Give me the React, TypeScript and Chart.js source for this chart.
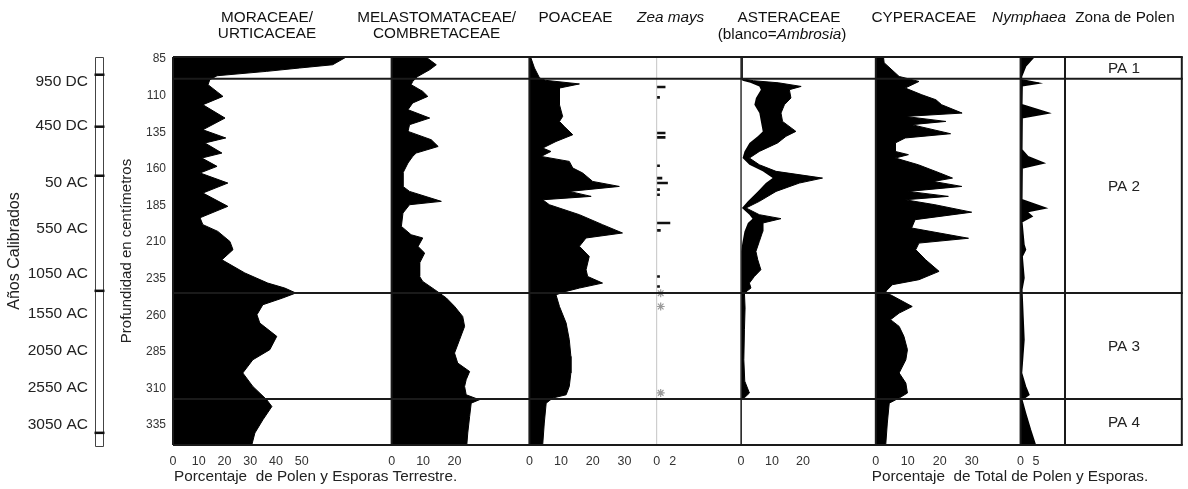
import React, { useEffect, useRef } from "react";
import { Chart, registerables } from "chart.js";

Chart.register(...registerables);

const FONT = "'Liberation Sans', Arial, Helvetica, sans-serif";
const TXT = 15.3;

// ---------------- data ----------------
const depthTicks = [85, 110, 135, 160, 185, 210, 235, 260, 285, 310, 335];
const depthMin = 83.6;
const depthMax = 348.6;

const ageLabels = ["950 DC", "450 DC", "50 AC", "550 AC", "1050 AC", "1550 AC", "2050 AC", "2550 AC", "3050 AC"];
const ageDepths = [100.5, 130.7, 169.6, 200.8, 231.8, 259.1, 284.3, 309.4, 334.8];
const dateMarkDepths = [95.7, 131.2, 164.7, 243.3, 340.3];

const zoneBoundaries = [98.4, 244.8, 317.2];
const zoneLabels = ["PA 1", "PA 2", "PA 3", "PA 4"];

const moraceaeDepth = [83.6, 88.9, 91.1, 93.4, 96.4, 99.1, 102.5, 110.5, 116.2, 125.3, 133.3, 138.9, 142.3, 149.2, 152.6, 158.3, 162.8, 169.7, 176.5, 185.6, 193.4, 198.1, 202.7, 209.6, 215.2, 222.1, 231.1, 238.0, 241.4, 244.8, 248.2, 252.8, 259.6, 265.3, 274.4, 283.5, 290.4, 299.4, 308.6, 317.7, 322.3, 331.4, 340.4, 348.6];
const moraceaeValues = [67.3, 62.0, 49.2, 36.4, 17.1, 14.3, 13.6, 19.4, 11.6, 20.2, 11.6, 20.5, 12.4, 19.0, 11.2, 17.1, 10.5, 21.3, 11.6, 21.3, 10.5, 11.6, 17.4, 22.1, 23.3, 19.0, 27.9, 36.8, 43.4, 47.7, 42.6, 34.9, 32.6, 33.7, 40.3, 37.6, 31.0, 27.1, 31.0, 36.4, 38.4, 34.9, 31.8, 30.6];

const melastDepth = [83.6, 88.9, 92.3, 96.9, 100.3, 102.5, 107.1, 110.5, 115.0, 119.6, 125.3, 129.8, 134.4, 140.1, 144.7, 149.2, 151.5, 156.0, 162.8, 172.0, 175.4, 182.2, 184.5, 190.2, 199.3, 205.0, 207.2, 213.0, 217.5, 224.3, 233.5, 236.9, 242.5, 248.2, 253.9, 260.8, 267.6, 276.7, 285.8, 292.6, 298.4, 304.0, 308.6, 314.3, 317.7, 320.0, 329.1, 340.4, 348.6];
const melastValues = [10.9, 14.2, 12.1, 8.3, 6.7, 6.2, 9.9, 11.5, 6.7, 5.2, 12.1, 5.7, 5.2, 12.6, 14.8, 7.8, 6.7, 5.2, 3.6, 3.6, 5.7, 15.8, 5.7, 3.6, 3.1, 6.2, 9.9, 8.4, 10.5, 8.9, 8.9, 9.9, 13.7, 17.4, 20.0, 22.6, 23.2, 21.6, 20.0, 21.0, 24.8, 23.7, 23.2, 23.7, 27.9, 25.3, 24.8, 24.2, 23.9];

const poaceaeDepth = [84.3, 91.1, 97.9, 99.5, 102.0, 104.8, 116.2, 124.2, 127.6, 131.0, 136.7, 141.3, 145.8, 148.1, 151.5, 154.9, 159.4, 162.8, 168.6, 172.0, 175.4, 178.8, 181.1, 184.5, 191.3, 198.1, 203.8, 207.2, 212.9, 219.8, 228.9, 233.5, 238.0, 241.4, 243.7, 246.0, 254.0, 265.3, 276.7, 288.1, 299.4, 308.6, 314.3, 316.5, 320.0, 333.6, 348.6];
const poaceaeValues = [0.5, 1.6, 3.2, 5.0, 15.8, 9.5, 9.5, 10.5, 9.5, 11.0, 13.7, 8.4, 4.2, 6.8, 3.7, 12.6, 13.7, 16.8, 20.0, 28.4, 12.6, 19.5, 4.2, 6.3, 15.8, 23.1, 29.4, 17.9, 15.8, 18.9, 17.9, 18.4, 23.1, 15.8, 11.6, 8.4, 9.5, 11.6, 12.6, 13.1, 13.1, 12.6, 11.6, 7.4, 5.3, 4.7, 4.2];

const zeaDepth = [104.1, 111.2, 135.5, 138.5, 157.9, 166.3, 169.7, 174.2, 177.7, 197.0, 202.0, 233.5, 240.3];
const zeaValues = [1.1, 0.4, 1.1, 1.1, 0.4, 0.7, 1.4, 0.4, 0.4, 1.7, 0.5, 0.4, 0.4];
const zeaStarDepth = [244.9, 254.0, 313.0];
const zeaStarValues = [0.5, 0.5, 0.5];

const asterDepth = [83.6, 98.4, 99.8, 101.2, 103.7, 105.9, 111.6, 116.2, 121.9, 127.6, 134.4, 137.8, 142.3, 148.1, 152.6, 157.2, 161.7, 166.3, 169.7, 175.4, 182.2, 186.7, 191.3, 194.0, 197.0, 202.7, 209.6, 216.4, 222.1, 228.9, 233.5, 238.0, 241.4, 244.8, 255.0, 269.9, 290.4, 305.0, 313.1, 316.5, 317.7, 348.6];
const asterValues = [0.3, 0.3, 4.0, 12.0, 19.4, 15.6, 16.1, 14.0, 12.9, 13.4, 17.7, 14.5, 11.8, 5.9, 2.7, 5.9, 11.3, 26.3, 18.8, 11.3, 5.9, 1.6, 5.9, 12.9, 7.0, 7.0, 5.9, 4.8, 5.4, 6.4, 4.3, 2.7, 3.2, 1.1, 1.3, 1.1, 0.9, 1.2, 2.7, 1.0, 0, 0];
const ambrosiaValues = [0, 0, 0.5, 3.0, 5.9, 6.4, 4.8, 4.3, 5.9, 6.4, 7.0, 5.4, 2.7, 1.1, 0.5, 2.7, 7.0, 10.2, 8.0, 5.4, 2.2, 0.3, 2.7, 3.7, 2.2, 1.1, 0.5, 0, 0, 0, 0, 0, 0, 0, 0, 0, 0, 0, 0, 0, 0, 0];

const cyperDepth = [83.6, 87.5, 96.9, 100.3, 104.8, 109.4, 112.8, 116.2, 121.9, 124.2, 127.6, 129.8, 136.0, 138.9, 142.3, 148.1, 150.3, 152.6, 157.2, 162.8, 166.3, 168.6, 172.0, 175.4, 178.8, 181.1, 184.5, 189.6, 194.7, 200.4, 207.4, 210.7, 215.2, 222.1, 230.0, 235.7, 239.1, 243.7, 246.0, 254.0, 258.5, 263.0, 267.6, 274.4, 283.5, 290.4, 299.4, 306.3, 313.1, 316.5, 320.0, 333.6, 348.6];
const cyperValues = [2.4, 2.6, 7.3, 13.5, 9.2, 14.4, 18.8, 20.6, 27.0, 9.2, 21.9, 11.2, 23.4, 9.2, 6.1, 6.1, 10.2, 6.1, 13.3, 20.0, 24.0, 18.0, 26.9, 10.2, 22.7, 9.2, 18.5, 30.0, 12.3, 11.2, 29.0, 13.5, 12.5, 15.6, 19.8, 13.5, 5.2, 3.1, 4.6, 11.4, 7.3, 4.6, 7.3, 8.8, 9.9, 9.4, 7.3, 9.4, 9.9, 7.3, 4.2, 3.6, 3.1];

const nymphDepth = [83.6, 90.0, 96.9, 99.1, 101.4, 103.2, 116.2, 121.9, 125.1, 146.9, 151.7, 156.0, 159.4, 181.1, 186.7, 189.3, 192.5, 196.1, 211.8, 215.2, 219.8, 234.6, 242.5, 276.7, 299.4, 308.6, 314.3, 317.7, 326.8, 338.2, 348.6];
const nymphValues = [4.3, 1.6, 0.3, 0.3, 5.9, 0.5, 0.4, 9.1, 0.5, 0.4, 2.4, 7.5, 0.5, 0.4, 8.1, 2.0, 3.7, 0.4, 1.1, 1.6, 0.5, 1.1, 0.4, 1.1, 0.3, 1.6, 2.7, 0.4, 1.6, 3.2, 4.8];

const morTicks = [0, 10, 20, 30, 40, 50];
const melTicks = [0, 10, 20];
const poaTicks = [0, 10, 20, 30];
const zeaTicks = [0, 2];
const astTicks = [0, 10, 20];
const cypTicks = [0, 10, 20, 30];
const nymTicks = [0, 5];

const captionTerrestre = "Porcentaje  de Polen y Esporas Terrestre.";
const captionTotal = "Porcentaje  de Total de Polen y Esporas.";

// ---------------- layout config ----------------
type Panel = { id: string; max: number; weight: number; ticks: number[]; title: string[]; italic?: boolean; tx: number };
const panels: Panel[] = [
  { id: "xMor", max: 84.9, weight: 219, ticks: morTicks, title: ["MORACEAE/", "URTICACEAE"], tx: 94 },
  { id: "xMel", max: 43.8, weight: 138, ticks: melTicks, title: ["MELASTOMATACEAE/", "COMBRETACEAE"], tx: 45 },
  { id: "xPoa", max: 40.2, weight: 127.5, ticks: poaTicks, title: ["POACEAE"], tx: 46 },
  { id: "xZea", max: 10.56, weight: 84.5, ticks: zeaTicks, title: ["Zea mays"], italic: true, tx: 14 },
  { id: "xAst", max: 43.5, weight: 135, ticks: astTicks, title: ["ASTERACEAE"], tx: 48 },
  { id: "xCyp", max: 45.3, weight: 145, ticks: cypTicks, title: ["CYPERACEAE"], tx: 48 },
  { id: "xNym", max: 14.4, weight: 44.5, ticks: nymTicks, title: ["Nymphaea"], italic: true, tx: 8.5 },
  { id: "xZone", max: 1, weight: 118, ticks: [], title: ["Zona de Polen"], tx: 60 },
];

function pts(depths: number[], values: number[]) {
  return depths.map((d, i) => ({ x: values[i], y: d }));
}

// horizontal presence strokes from 0 to the value, separated by gaps
function strokes(depths: number[], values: number[]) {
  const out: any[] = [];
  depths.forEach((d, i) => {
    out.push({ x: 0, y: d }, { x: values[i], y: d }, { x: null, y: d });
  });
  return out;
}

const overlayPlugin = {
  id: "overlay",
  afterDatasetsDraw(chart: any) {
    const { ctx, chartArea: a, scales } = chart;
    const yS = scales.y;
    ctx.save();
    const hline = (y: number, w: number) => {
      ctx.strokeStyle = "#1a1a1a";
      ctx.lineWidth = w;
      ctx.beginPath();
      ctx.moveTo(a.left, y);
      ctx.lineTo(a.right, y);
      ctx.stroke();
    };
    const vline = (x: number, w: number, color: string) => {
      ctx.strokeStyle = color;
      ctx.lineWidth = w;
      ctx.beginPath();
      ctx.moveTo(x, a.top);
      ctx.lineTo(x, a.bottom);
      ctx.stroke();
    };
    panels.forEach((p) => {
      const s = scales[p.id];
      const x = s.getPixelForValue(0);
      if (p.id === "xZea") vline(x, 1, "#c4c4c4");
      else if (p.id === "xAst") vline(x, 1.5, "#333");
      else vline(x, 2, "#1a1a1a");
    });
    vline(a.right - 1, 2, "#1a1a1a");
    hline(a.top, 2);
    hline(a.bottom, 2);
    zoneBoundaries.forEach((d) => hline(yS.getPixelForValue(d), 2));

    // zone labels
    const zs = scales.xZone;
    const zx = (zs.left + zs.right) / 2;
    const bounds = [depthMin, ...zoneBoundaries, depthMax];
    ctx.fillStyle = "#222";
    ctx.font = `${TXT}px ${FONT}`;
    ctx.textAlign = "center";
    ctx.textBaseline = "middle";
    zoneLabels.forEach((lab, i) => {
      const y = (yS.getPixelForValue(bounds[i]) + yS.getPixelForValue(bounds[i + 1])) / 2;
      ctx.fillText(lab, zx, y + 1);
    });

    // panel titles
    ctx.fillStyle = "#111";
    panels.forEach((p) => {
      const s = scales[p.id];
      const cx = s.left + p.tx;
      ctx.font = `${p.italic ? "italic " : ""}${TXT}px ${FONT}`;
      ctx.textAlign = "center";
      ctx.fillText(p.title[0], cx, 18);
      if (p.title[1]) ctx.fillText(p.title[1], cx, 34);
    });
    // Asteraceae sub-title with italic Ambrosia
    {
      const s = scales.xAst;
      const cx = s.left + 41;
      const parts = [
        { t: "(blanco=", it: false },
        { t: "Ambrosia", it: true },
        { t: ")", it: false },
      ];
      let total = 0;
      parts.forEach((pt) => {
        ctx.font = `${pt.it ? "italic " : ""}${TXT}px ${FONT}`;
        total += ctx.measureText(pt.t).width;
      });
      let x = cx - total / 2;
      ctx.textAlign = "left";
      parts.forEach((pt) => {
        ctx.font = `${pt.it ? "italic " : ""}${TXT}px ${FONT}`;
        ctx.fillText(pt.t, x, 35);
        x += ctx.measureText(pt.t).width;
      });
    }

    // bottom captions
    ctx.fillStyle = "#222";
    ctx.font = `${TXT}px ${FONT}`;
    ctx.textAlign = "left";
    ctx.fillText(captionTerrestre, scales.xMor.left + 1, 477);
    ctx.fillText(captionTotal, scales.xCyp.left - 4, 477);

    // age column bar
    const ya = scales.yAge;
    const bx0 = ya.right - 15;
    const bx1 = ya.right - 7;
    ctx.strokeStyle = "#444";
    ctx.lineWidth = 1;
    ctx.fillStyle = "#fff";
    ctx.beginPath();
    ctx.rect(bx0 + 0.5, a.top + 0.5, bx1 - bx0, a.bottom - a.top + 1);
    ctx.fill();
    ctx.stroke();
    ctx.strokeStyle = "#111";
    ctx.lineWidth = 2.5;
    dateMarkDepths.forEach((d) => {
      const y = yS.getPixelForValue(d);
      ctx.beginPath();
      ctx.moveTo(bx0 - 0.5, y);
      ctx.lineTo(bx1 + 1.5, y);
      ctx.stroke();
    });
    ctx.restore();
  },
};

export default function App() {
  const ref = useRef<HTMLCanvasElement>(null);
  useEffect(() => {
    const canvas = ref.current;
    if (!canvas) return;
    Chart.defaults.font.family = FONT;
    const fixTicks = (vals: number[]) => (scale: any) => {
      scale.ticks = vals.map((v) => ({ value: v }));
    };
    const scales: any = {};
    panels.forEach((p) => {
      scales[p.id] = {
        type: "linear",
        position: "bottom",
        stack: "panels",
        stackWeight: p.weight,
        min: 0,
        max: p.max,
        offset: false,
        grid: { display: false, drawTicks: false },
        border: { display: false },
        ticks: {
          display: p.ticks.length > 0,
          padding: 9,
          autoSkip: false,
          maxRotation: 0,
          color: "#333",
          font: { size: 12.5, family: FONT },
        },
        afterBuildTicks: fixTicks(p.ticks),
        afterFit: (s: any) => {
          s.height = 44;
          s.paddingLeft = 0;
          s.paddingRight = 0;
        },
      };
    });
    scales.y = {
      type: "linear",
      position: "left",
      weight: 0,
      min: depthMin,
      max: depthMax,
      reverse: true,
      offset: false,
      grid: { display: false, drawTicks: false, offset: false },
      border: { display: false },
      ticks: { padding: 7, autoSkip: false, color: "#333", font: { size: 12, family: FONT } },
      afterBuildTicks: fixTicks(depthTicks),
      afterFit: (s: any) => {
        s.width = 63;
      },
      title: {
        display: true,
        text: "Profundidad en centímetros",
        color: "#222",
        font: { size: 15, family: FONT },
        padding: { top: 8, bottom: 0 },
      },
    };
    scales.yAge = {
      type: "linear",
      position: "left",
      weight: 1,
      min: depthMin,
      max: depthMax,
      reverse: true,
      offset: false,
      grid: { display: false, drawTicks: false, offset: false },
      border: { display: false },
      ticks: {
        padding: 22,
        autoSkip: false,
        color: "#222",
        font: { size: 15.5, family: FONT },
        callback: (_v: any, i: number) => ageLabels[i],
      },
      afterBuildTicks: fixTicks(ageDepths),
      afterFit: (s: any) => {
        s.width = 110;
      },
      title: {
        display: true,
        text: "Años Calibrados",
        color: "#222",
        font: { size: 16, family: FONT },
        padding: { top: 4.5, bottom: 0 },
      },
    };

    const areaSet = (id: string, depths: number[], values: number[], color: string, order: number, bw = 1) => ({
      type: "line",
      indexAxis: "y",
      xAxisID: id,
      yAxisID: "y",
      data: pts(depths, values),
      fill: { value: 0 },
      backgroundColor: color,
      borderColor: color,
      borderWidth: bw,
      pointRadius: 0,
      tension: 0,
      order,
    });

    const datasets: any[] = [
      areaSet("xMor", moraceaeDepth, moraceaeValues, "#000", 5),
      areaSet("xMel", melastDepth, melastValues, "#000", 5),
      areaSet("xPoa", poaceaeDepth, poaceaeValues, "#000", 5),
      areaSet("xAst", asterDepth, asterValues, "#000", 5),
      areaSet("xAst", asterDepth, ambrosiaValues, "#fff", 4, 0),
      areaSet("xCyp", cyperDepth, cyperValues, "#000", 5),
      areaSet("xNym", nymphDepth, nymphValues, "#000", 5, 1.5),
      {
        type: "line",
        indexAxis: "y",
        xAxisID: "xZea",
        yAxisID: "y",
        data: strokes(zeaDepth, zeaValues),
        spanGaps: false,
        fill: false,
        borderColor: "#111",
        borderWidth: 2.6,
        borderCapStyle: "butt",
        pointRadius: 0,
        tension: 0,
        order: 3,
      },
      {
        type: "line",
        indexAxis: "y",
        xAxisID: "xZea",
        yAxisID: "y",
        data: pts(zeaStarDepth, zeaStarValues),
        showLine: false,
        fill: false,
        pointStyle: "star",
        pointRadius: 4,
        borderColor: "#9a9a9a",
        backgroundColor: "#9a9a9a",
        borderWidth: 1.2,
        order: 2,
      },
    ];

    const chart = new Chart(canvas, {
      type: "line",
      data: { datasets },
      options: {
        animation: false,
        responsive: false,
        maintainAspectRatio: false,
        events: [],
        layout: { padding: { top: 57, right: 4, bottom: 0, left: 0 } },
        plugins: { legend: { display: false }, tooltip: { enabled: false } },
        scales,
      } as any,
      plugins: [overlayPlugin],
    } as any);
    return () => chart.destroy();
  }, []);
  return (
    <div style={{ position: "absolute", left: 0, top: 0, width: 1188, height: 489, background: "#fff" }}>
      <canvas ref={ref} width={1188} height={489} style={{ display: "block", width: 1188, height: 489 }} />
    </div>
  );
}
